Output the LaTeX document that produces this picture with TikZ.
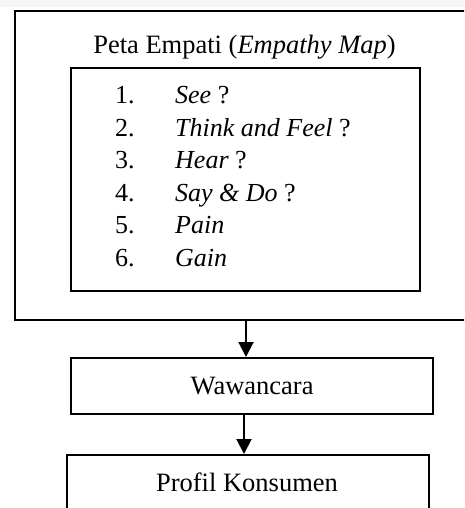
\documentclass[tikz,border=0pt]{standalone}
\usepackage{fontspec}
\setmainfont{Liberation Serif}
\usetikzlibrary{arrows.meta}
\begin{document}
\begin{tikzpicture}[x=1pt,y=1pt,
  box/.style={draw, line width=2.2pt, inner sep=0pt, anchor=north west},
  lbl/.style={font=\fontsize{26.5}{31}\selectfont, inner sep=0pt},
  item/.style={font=\fontsize{26}{31}\selectfont, inner sep=0pt, anchor=base west},
  arr/.style={line width=2pt, -{Triangle[length=15pt,width=15pt]}}]
\useasboundingbox (0,0) rectangle (464,-508);
\clip (0,0) rectangle (464,-508);
\fill[white] (0,0) rectangle (464,-508);
\fill[gray!7] (0,0) rectangle (464,-7);
% outer box
\node[box, minimum width=461pt, minimum height=309pt] (outer) at (14,-10) {};
\node[lbl] (title) at (244.5,-47) {Peta Empati (\textit{Empathy Map})};
% inner box
\node[box, minimum width=349pt, minimum height=223pt] (inner) at (70,-67) {};
\node[item] (n1) at (115,-104) {1.};
\node[item] (t1) at (175,-104) {\textit{See} ?};
\node[item] (n2) at (115,-136.4) {2.};
\node[item] (t2) at (175,-136.4) {\textit{Think and Feel} ?};
\node[item] (n3) at (115,-168.8) {3.};
\node[item] (t3) at (175,-168.8) {\textit{Hear} ?};
\node[item] (n4) at (115,-201.2) {4.};
\node[item] (t4) at (175,-201.2) {\textit{Say \& Do} ?};
\node[item] (n5) at (115,-233.6) {5.};
\node[item] (t5) at (175,-233.6) {\textit{Pain}};
\node[item] (n6) at (115,-266) {6.};
\node[item] (t6) at (175,-266) {\textit{Gain}};
% lower boxes
\node[box, minimum width=362pt, minimum height=56pt] (waw) at (70,-357) {};
\node[lbl] (wawt) at (waw.center) {Wawancara};
\node[box, minimum width=362pt, minimum height=58pt] (prof) at (66,-454) {};
\node[lbl] (proft) at (247,-482) {Profil Konsumen};
% arrows
\draw[arr] (246,-319) coordinate (a1) -- (a1 |- waw.north);
\draw[arr] (244,-413) coordinate (a2) -- (a2 |- prof.north);
\end{tikzpicture}
\end{document}
